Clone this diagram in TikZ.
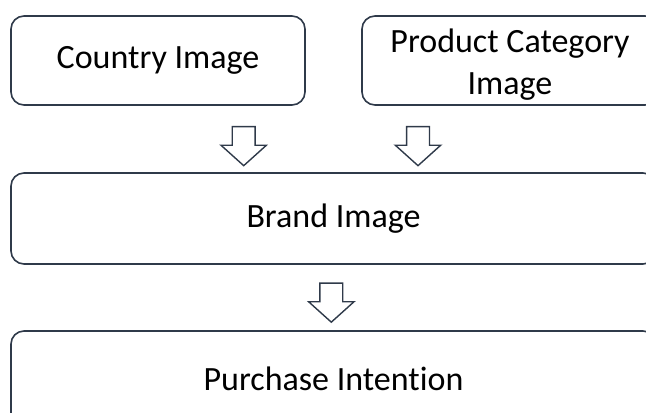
\documentclass[tikz,border=0pt]{standalone}
\usepackage{fontspec}
\setmainfont{Carlito}[Ligatures=NoCommon]
\usetikzlibrary{shapes.arrows}

\definecolor{edge}{HTML}{2F3A4A}

\begin{document}
\begin{tikzpicture}[
  x=1bp, y=-1bp,
  box/.style={draw=edge, line width=1.6bp, rounded corners=13bp, inner sep=0pt,
              align=center, font=\fontsize{34bp}{42bp}\selectfont},
  downarrow/.style={draw=edge, line width=1.4bp, single arrow, shape border rotate=270,
              minimum height=39bp, inner sep=10.75bp,
              single arrow head extend=11.25bp, single arrow tip angle=96},
]
\useasboundingbox (0,0) rectangle (646,412);
\clip (0,0) rectangle (646,412);

% Boxes
\node[box, minimum width=294bp, minimum height=89bp] (country)  at (158,60.5) {Country Image};
\node[box, minimum width=296bp, minimum height=89bp] (category) at (510,60.5) {\rule{0pt}{32bp}Product Category\\Image};
\node[box, minimum width=645bp, minimum height=91bp] (brand)    at (333.5,218.5) {Brand Image};
\node[box, minimum width=645bp, minimum height=95bp] (purchase) at (333.5,378.5) {Purchase Intention};

% Arrows
\node[downarrow] (countryarrow)  at (243.7,141) {};
\node[downarrow] (categoryarrow) at (418,141) {};
\node[downarrow] (brandarrow)    at (331.3,297.5) {};

\end{tikzpicture}
\end{document}
